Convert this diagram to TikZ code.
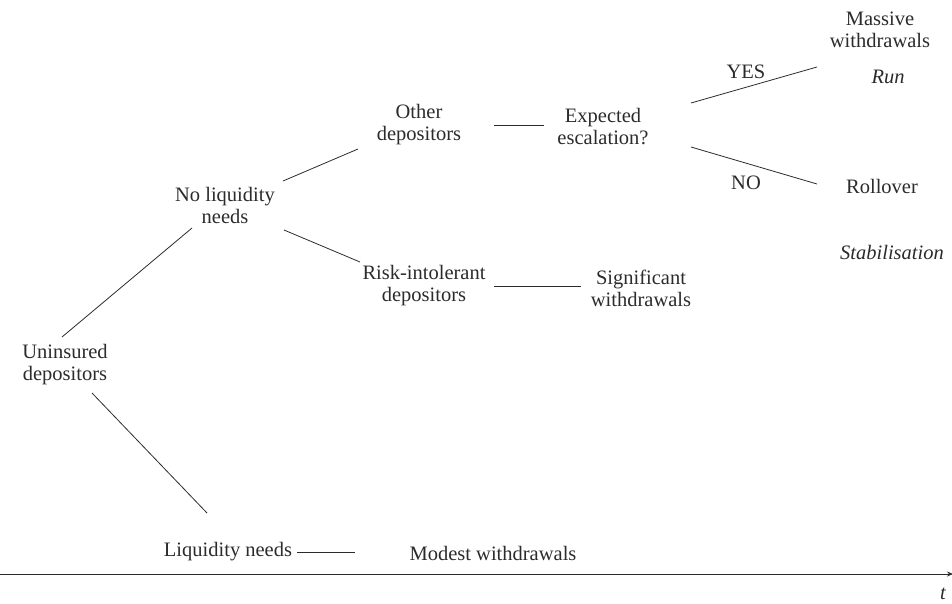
\documentclass[tikz,border=0pt]{standalone}
\usepackage{fontspec}
\setmainfont{Liberation Serif}
\usetikzlibrary{arrows.meta}
\definecolor{ink}{HTML}{2B2B2B}
\begin{document}
\begin{tikzpicture}[x=1pt,y=-1pt,
  lbl/.style={align=center,inner sep=0pt,text=ink,font=\fontsize{20.5}{22}\selectfont},
  conn/.style={draw=ink,line width=0.8pt}]
\useasboundingbox (0,0) rectangle (952,603);
% nodes
\node[lbl] (u) at (65,365) {Uninsured\\depositors};
\node[lbl] (nl) at (225,205) {No liquidity\\needs};
\node[lbl] (ln) at (228,552) {Liquidity needs};
\node[lbl] (mw) at (493,553) {Modest withdrawals};
\node[lbl] (od) at (419,125) {Other\\depositors};
\node[lbl] (rd) at (424,286) {Risk-intolerant\\depositors};
\node[lbl] (sw) at (641,288) {Significant\\withdrawals};
\node[lbl] (ee) at (603,127) {Expected\\escalation?};
\node[lbl] (mas) at (880,30) {Massive\\withdrawals};
\node[lbl] (run) at (888,77) {\itshape Run};
\node[lbl] (ro) at (882,186) {Rollover};
\node[lbl] (st) at (892,252) {\itshape Stabilisation};
\node[lbl] (yes) at (746,72) {YES};
\node[lbl] (no) at (746,183) {NO};
\node[inner sep=0pt,text=ink,font=\fontsize{20.5}{22}\selectfont\itshape,anchor=east] (t) at (946,594) {t};
% endpoints
\coordinate (u1) at (62,337);   \coordinate (nl1) at (192,228);
\coordinate (u2) at (92,393);   \coordinate (ln1) at (207,513);
\coordinate (nl2) at (283,181); \coordinate (od1) at (358,149);
\coordinate (nl3) at (284,230); \coordinate (rd1) at (360,262);
\coordinate (od2) at (494,125); \coordinate (ee1) at (544,125);
\coordinate (rd2) at (494,286); \coordinate (sw1) at (581,286);
\coordinate (ln2) at (297,552); \coordinate (mw1) at (355,552);
\coordinate (ee2) at (691,103); \coordinate (mas1) at (817,67);
\coordinate (ee3) at (691,147); \coordinate (ro1) at (817,184);
\coordinate (ax0) at (0,574);   \coordinate (ax1) at (953,574);
% connectors
\draw[conn] (u1) -- (nl1);
\draw[conn] (u2) -- (ln1);
\draw[conn] (nl2) -- (od1);
\draw[conn] (nl3) -- (rd1);
\draw[conn] (od2) -- (ee1);
\draw[conn] (rd2) -- (sw1);
\draw[conn] (ln2) -- (mw1);
\draw[conn] (ee2) -- (mas1);
\draw[conn] (ee3) -- (ro1);
\draw[conn,-{Stealth[length=6pt,width=5pt]}] (ax0) -- (ax1);
\end{tikzpicture}
\end{document}
